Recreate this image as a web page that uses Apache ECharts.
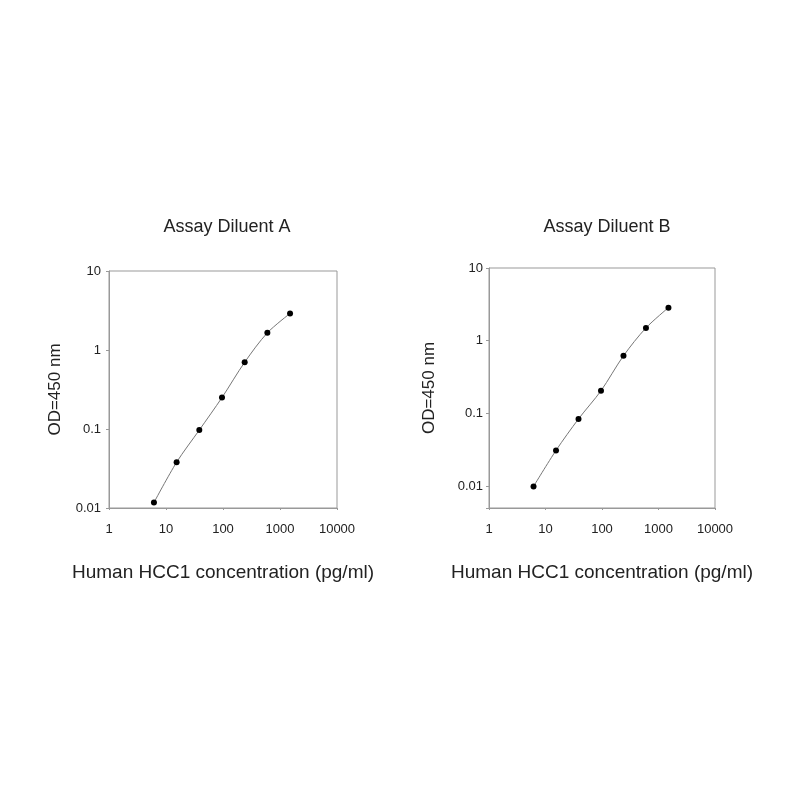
<!DOCTYPE html>
<html>
<head>
<meta charset="utf-8" />
<title>HCC1 standard curves</title>
<script src="https://cdn.jsdelivr.net/npm/echarts@6/dist/echarts.min.js"></script>
<style>
  html, body { margin: 0; padding: 0; background: #fff; }
  #chart { width: 800px; height: 800px; }
</style>
</head>
<body>
<div id="chart"></div>
<script>
// concentration (pg/ml), 2.5-fold dilution series
var conc = [6.14, 15.36, 38.4, 96, 240, 600, 1500];
// OD450 readings
var odA = [0.0117, 0.038, 0.097, 0.25, 0.70, 1.65, 2.9];
var odB = [0.0099, 0.031, 0.084, 0.205, 0.62, 1.5, 2.85];
var titles = ['Assay Diluent A', 'Assay Diluent B'];
var xName = 'Human HCC1 concentration (pg/ml)';
var yName = 'OD=450 nm';
var yMins = [0.01, 0.005];

var chart = echarts.init(document.getElementById('chart'));
var font = 'Liberation Sans, Arial, sans-serif';

function fmt(v) {
  var r = Number(v.toPrecision(6));
  var l = Math.log10(r);
  if (Math.abs(l - Math.round(l)) > 1e-6) return '';
  return String(r);
}

function pairs(ys) {
  return conc.map(function (c, i) { return [c, ys[i]]; });
}

var grids = [
  { left: 109, top: 271, width: 228, height: 237 },
  { left: 489, top: 268, width: 226, height: 240 }
];
var yNameGap = [45, 51];
var yLabelMargin = [8, 6];

var option = {
  backgroundColor: '#fff',
  animation: false,
  title: titles.map(function (t, i) {
    return {
      text: t,
      left: i === 0 ? 222 : 602,
      top: 213,
      textAlign: 'center',
      textStyle: { fontFamily: font, fontSize: 18, fontWeight: 'normal', color: '#222' }
    };
  }),
  grid: grids.map(function (g) {
    return Object.assign({ show: true, borderColor: '#999', borderWidth: 1, backgroundColor: '#fff' }, g);
  }),
  xAxis: [0, 1].map(function (i) {
    return {
      type: 'log', logBase: 10, min: 1, max: 10000, gridIndex: i,
      name: xName, nameLocation: 'middle', nameGap: 55,
      nameTextStyle: { fontFamily: font, fontSize: 19, color: '#222' },
      axisLine: { lineStyle: { color: '#999' } },
      axisTick: { show: true, length: 2, lineStyle: { color: '#999' } },
      axisLabel: { fontFamily: font, fontSize: 13, color: '#222', margin: 15, formatter: fmt },
      splitLine: { show: false }, minorTick: { show: false }
    };
  }),
  yAxis: [0, 1].map(function (i) {
    return {
      type: 'log', logBase: 10, min: yMins[i], max: 10, gridIndex: i,
      name: yName, nameLocation: 'middle', nameGap: yNameGap[i], nameRotate: 90,
      nameTextStyle: { fontFamily: font, fontSize: 17, color: '#222' },
      axisLine: { lineStyle: { color: '#999' } },
      axisTick: { show: true, length: 3, lineStyle: { color: '#999' } },
      axisLabel: { fontFamily: font, fontSize: 13, color: '#222', margin: yLabelMargin[i], formatter: fmt },
      splitLine: { show: false }, minorTick: { show: false }
    };
  }),
  series: [odA, odB].map(function (ys, i) {
    return {
      type: 'line', xAxisIndex: i, yAxisIndex: i,
      data: pairs(ys), smooth: 0.3,
      symbol: 'circle', symbolSize: 6,
      itemStyle: { color: '#000' },
      lineStyle: { color: '#777', width: 1 }
    };
  })
};

chart.setOption(option);
</script>
</body>
</html>
